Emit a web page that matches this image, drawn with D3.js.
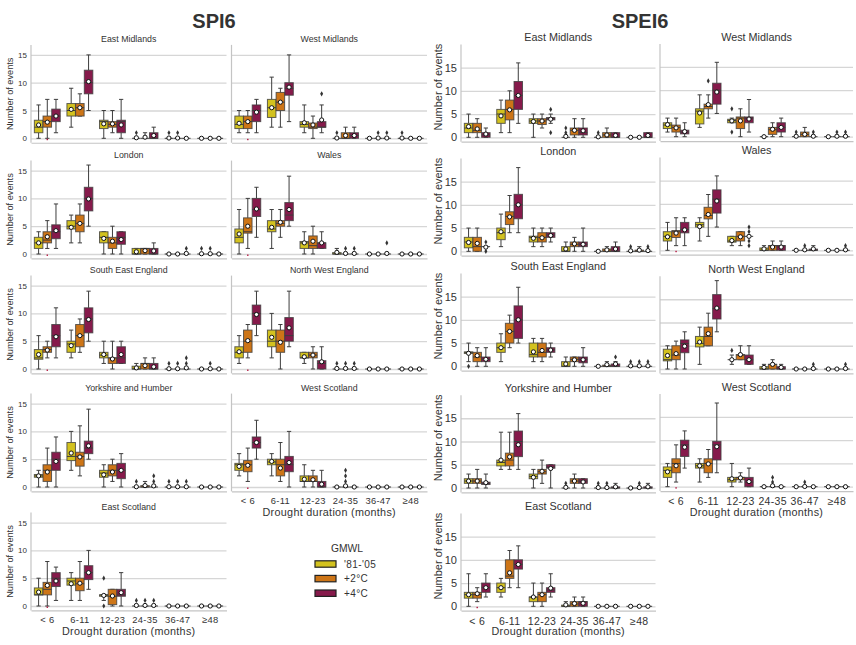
<!DOCTYPE html>
<html>
<head>
<meta charset="utf-8">
<title>SPI6 / SPEI6 drought events</title>
<style>
  body { margin: 0; background: #fff; }
  text { font-family: "Liberation Sans", Arial, sans-serif; fill: #333; }
</style>
</head>
<body>
<script src="https://d3js.org/d3.v7.min.js"></script>
<script>
// ---- categories ----
var durations = ["< 6", "6-11", "12-23", "24-35", "36-47", "\u226548"];
var scenarios = ["'81-'05", "+2\u00b0C", "+4\u00b0C"];
var colours   = ["#d3c21f", "#cd7517", "#861a4b"];
var yTicks    = [0, 5, 10, 15];

// each box: [whisker low, q1, median, q3, whisker high, mean, (outliers)]
var z = [[0,0,0,0,0,0],[0,0,0,0,0,0],[0,0,0,0,0,0]];

// ---- SPI6 ----
var spiEastMidlands = [
  [[0,1,2,3.25,6,2.4],[0,2,3,4,7,2.9],[1,3,4,5.25,7,4]],
  [[2,4,5,6.25,9,5.2],[4,4,5.5,6.25,8,5.5],[5,8,10,12.25,15,10.2]],
  [[0,1.75,3,3.25,5,2.6],[1,2,2.5,3,5,2.6],[0,1,3,3.25,7,2.4]],
  [[0,0,0,0,0,0.1,[1]],[0,0,0,0,1,0.2],[0,0,0,1,2,0.5]],
  [[0,0,0,0,0,0.05,[1]],[0,0,0,0,0,0.05,[1]],[0,0,0,0,0,0]],
  z
];
var spiWestMidlands = [
  [[1,1.75,2.5,4,5,2.7],[1,1.75,3,4,5,3],[1,3,5,6,7,4.7]],
  [[2,3.75,5.5,7,11,5.5],[2,5,6.5,8.25,9,6.5],[3,7.75,9,10,15,9.2]],
  [[1,2,2.5,3,6,2.8],[0,1.75,2,2.75,4,2.4],[1,2,2,3,6,3.3,[8]]],
  [[0,0,0,0,0,0.05,[1]],[0,0,0,1,2,0.5],[0,0,0.5,1,2,0.5]],
  [[0,0,0,0,0,0],[0,0,0,0,0,0.05,[1]],[0,0,0,0,0,0.05,[1]]],
  [[0,0,0,0,0,0.05,[1]],[0,0,0,0,0,0],[0,0,0,0,0,0]]
];
var spiLondon = [
  [[0,1,2,3,4,2],[1,2,2.5,4,6,3.1],[1,2.75,4,5.25,9,4.2]],
  [[2,4.5,5,6,7,4.8],[2,4,5.5,7,9,5.5],[5,7.75,10,12,16,9.9]],
  [[0,2,3,4,4,2.8],[0,1,2,3,5,2.3],[0,1.75,3,4,4,2.6]],
  [[0,0,0,1,1,0.4],[0,0,1,1,1,0.6],[0,0,0,1,2,0.55]],
  [[0,0,0,0,0,0],[0,0,0,0,0,0],[0,0,0,0,0,0.1,[1]]],
  [[0,0,0,0,0,0.05,[1]],[0,0,0,0,0,0.05,[1]],[0,0,0,0,0,0]]
];
var spiWales = [
  [[0,2,3,4.5,8,3.6],[1,3.75,4,6.5,10,5],[3,6.75,8,10,12,8.1]],
  [[1,4,4.5,6,8,4.8],[3,5,5.5,6,8,5.7],[5,6,7,9.25,14,8]],
  [[0,1,2,2.25,4,2],[0,1,1.5,3.25,5,2.3],[1,1,2,2,4,2]],
  [[0,0,0,0.25,1,0.3],[0,0,0,0,0,0.1,[1]],[0,0,0,0,0,0.1,[1]]],
  [[0,0,0,0,0,0],[0,0,0,0,0,0],[0,0,0,0,0,0.1,[2]]],
  z
];
var spiSouthEast = [
  [[0,1.75,2,3.5,6,2.6],[2,3,3.5,4,5,3.4],[2,4,6,8,11,5.8]],
  [[2,3,4.5,5,7,4.2],[3,4,6,8,9,6],[5,6.5,9,11,14,8.9]],
  [[1,2,2.5,3,5,2.6],[0,1,2,2,5,1.8],[1,1,2,4,5,2.6]],
  [[0,0,0,0.5,1,0.2],[0,0,1,1,2,0.6],[0,0,0,1,2,0.4]],
  [[0,0,0,0,0,0.05,[1]],[0,0,0,0,0,0.05,[1]],[0,0,0,0,0,0.2,[1,2]]],
  [[0,0,0,0,0,0],[0,0,0,0,0,0.05,[1]],[0,0,0,0,0,0]]
];
var spiNorthWest = [
  [[1,2,3,4,6,3.1],[2,3,5,7,8,5.1],[6,8,10,11.5,14,9.8]],
  [[2,4,5,7,10,5.7],[0,3,5,7,8,4.8],[4,5,6,9.25,14,7.4]],
  [[1,2,2,3,3,2.2],[0,2,2.5,3,4,2.5],[0,0,1,1.5,4,1.3]],
  [[0,0,0,0,0,0.1,[1]],[0,0,0,0,0,0.1,[1]],[0,0,0,0,0,0.1,[1]]],
  z, z
];
var spiYorkshire = [
  [[0,1.75,2,2.25,3,2],[0,1,3,4,7,2.7],[0,3,5,6.25,9,4.6]],
  [[3,4.75,5.5,8,10,6.1],[2,3.75,5.5,6.25,11,5.4],[5,6,7,8.25,14,7.4]],
  [[0,1.75,2.5,3,4,2.2],[1,2,3,4,5,2.7],[0,1.5,3,4.25,6,3]],
  [[0,0,0,0,0,0.05,[1]],[0,0,0,0.25,1,0.25],[0,0,0,0,0,0.2,[1,2]]],
  [[0,0,0,0,0,0.05,[1]],[0,0,0,0,0,0.05,[1]],[0,0,0,0,0,0.05,[1]]],
  z
];
var spiWestScotland = [
  [[2,3,4,4.25,6,3.7],[1,2.75,4,4.75,7,3.9],[5,7,8,9,12,8]],
  [[2,4,4.5,5,6,4.6],[1,2,4,5,8,3.4],[0,2.75,4,5.5,10,4.4]],
  [[0,1,1,2,4,1.4],[0,1,1,2,3,1.3],[0,0,0,1,3,0.5]],
  [[0,0,0,0,0,0],[0,0,0,0,0,0.2,[1,2,3]],[0,0,0,0,0,0]],
  z, z
];
var spiEastScotland = [
  [[0,2,2,3.25,5,2.5],[0,2,3,4.25,8,3.7],[1,3.5,5,6,7,4.5]],
  [[1,3.75,4.5,5,6,4],[1,2.75,4,5,8,4.1],[3,4.75,6,7.25,10,6]],
  [[1,1.75,2,2,2,1.9,[5,0]],[0,0.25,1.75,3,3,1.8],[0,1.75,2,3,6,2.4]],
  [[0,0,0,0,0,0.1,[1]],[0,0,0,0,0,0.1,[1]],[0,0,0,0,0,0.1,[1]]],
  z, z
];

// ---- SPEI6 ----
var speiEastMidlands = [
  [[0,1,2,3,5,2.3],[0,1,1.5,3,4,1.8],[0,0,0.5,1,2,0.7]],
  [[1,3,5,6,8,4.6],[1,3.75,6,8,10,5.9],[3,6,9,12,16,9]],
  [[0,3,3.5,4,5,3.4],[2,2.75,3.5,4,5,3.5],[3,3.75,4,4.25,5,3.9,[6,1]]],
  [[0,0,0,0,0,0.2,[1,2]],[0,0.5,1.5,2,4,1.5],[0,0.5,1,2,4,1.4]],
  [[0,0,0,0,0,0.1,[1]],[0,0,0.5,1,2,0.5],[0,0,0,1,1,0.4]],
  [[0,0,0,0,0,0],[0,0,0,0,0,0],[0,0,0,1,1,0.4]]
];
var speiWestMidlands = [
  [[1,1.75,2.5,3,4,2.6],[0,1,2,2.5,4,1.9],[0,0.6,1,1.4,3,1.1]],
  [[2,2.75,5.5,6,9,5.1],[4,6,6.5,7,9,6.9,[12]],[5,7,10,11.5,16,9.6]],
  [[3,3,3.5,3.75,4,3.4,[6,1]],[0,1.75,4,4.25,6,3.4],[1,3,4,4.25,8,3.8]],
  [[0,0,0,0,0,0],[0,0.5,1.5,2,3,1.6],[0,1,2,3,4,2]],
  [[0,0,0,0,0,0.1,[1]],[0,0,0.5,1,2,0.5],[0,0,0,0,0,0.1,[1]]],
  [[0,0,0,0,0,0],[0,0,0,0,0,0.1,[1]],[0,0,0,0,0,0.1,[1]]]
];
var speiLondon = [
  [[0,0.75,2,3,5,1.9],[0,0,1,3,5,1.7],[1,1,1,1,1,0.9,[2,0]]],
  [[1,2.5,4,5,8,4.2],[4,5.75,7.5,8.5,12,7.4],[4,7,10,12.25,18,10]],
  [[1,2,3,3.25,5,2.8],[1,2,3,4,5,2.9],[2,3,3.5,4,5,3.4]],
  [[0,0,0,1,2,0.5],[0,1,1.5,2,3,1.6],[0,1,1.5,2,5,1.5]],
  [[0,0,0,0,0,0],[0,0,0,0.5,1,0.3],[0,0,0,1,2,0.5]],
  [[0,0,0,0,0,0.1,[1]],[0,0,0,0.25,1,0.25],[0,0,0,0,0,0.15,[1]]]
];
var speiWales = [
  [[0,2,3,4,6,2.9],[1,2.75,4,4.25,7,3.7],[1,3.75,4.5,6,7,4.4]],
  [[2,5,5.5,6,7,5.1],[3,6.75,7.5,9.25,12,7.7],[5,8,11,13,16,10.6]],
  [[1,1.75,2,3,3,2.1],[1,2,3,4,4,2.9],[3,3,3,3,3,3,[5,4,2,1]]],
  [[0,0,0,0.5,1,0.3],[0,0,1,1,2,0.7],[0,0,1,1,2,0.7]],
  [[0,0,0,0,0,0],[0,0,0,0,0,0.1,[1]],[0,0,0,0.25,1,0.3]],
  [[0,0,0,0,0,0],[0,0,0,0,0,0],[0,0,0,0,0,0.1,[1]]]
];
var speiSouthEast = [
  [[1,2.75,3,3.1,5,2.8,[0]],[0,1,2,3,4,2.3],[0,1,1.5,2,4,1.5]],
  [[1,3,4,5,7,4],[4,5,7.5,9.25,11,7.5],[5,6,10,13,17,10]],
  [[1,2,2.5,5,6,3.1],[1,2,3,5,6,3.4],[2,3,3.5,4,5,3.5]],
  [[0,0,0,1,2,0.5],[0,1,1.5,2,2,1.4],[0,0.75,1.5,2,4,1.4]],
  [[0,0,0,0,0,0],[0,0,0,0.25,1,0.35],[0,0,0,0.5,1,0.5,[2]]],
  [[0,0,0,0,0,0.1,[1]],[0,0,0,0,0,0.1,[1]],[0,0,0,0,0,0.1,[1]]]
];
var speiNorthWest = [
  [[0,1.75,2,4.25,5,2.9],[0,2,3,5,6,3.3],[0,3.5,5.5,6.25,8,4.9]],
  [[1,4.75,5.5,7,9,5.8],[5,5,7,9,12,7.6],[8,10.75,13,16,19,13.1]],
  [[1,2,2,2,3,2,[4]],[2,2,3,3.1,5,3.1],[1,1,2,3,5,2]],
  [[0,0,0,0.5,1,0.35],[0,0,1,1,2,1],[0,0,0,0.5,1,0.35]],
  [[0,0,0,0,0,0],[0,0,0,0,0,0],[0,0,0,0,0,0.1,[1]]],
  [[0,0,0,0,0,0],[0,0,0,0,0,0],[0,0,0,0,0,0.1,[1]]]
];
var speiYorkshire = [
  [[0,1,1.5,2,3,1.5],[0,1,1.5,2,4,1.5],[0,0.75,1,1.25,3,1.15]],
  [[4,4.75,5.5,6,12,6],[4,4.75,6,7.5,12,6.7],[4,6.75,10,12.25,16,9.3]],
  [[0,2,2.5,3,4,2.3],[1,3,3.5,4,6,3.6],[0,4.25,4.5,5,5,4.2]],
  [[0,0,0,0,0,0.15,[1]],[0,1,1.5,2,3,1.5],[0,1,1.5,2,2,1.3]],
  [[0,0,0,0,0,0.1,[1]],[0,0,0,0,0,0.1,[1]],[0,0,0,0.25,1,0.25]],
  [[0,0,0,0,0,0],[0,0,0,0,0,0.1,[1]],[0,0,0,0.25,1,0.25]]
];
var speiWestScotland = [
  [[0,2,3.5,4.25,5,3.2],[1,3,5,6,9,4.5],[4,6.5,9,10,12,8.5]],
  [[1,4,4.5,5,6,4.5],[2,3,5,6,8,4.9],[3,5.75,9,9.75,18,8.6]],
  [[0,1,1.5,2,5,1.7],[1,1.5,2,2,3,1.9],[0,0,1,2,4,1.1]],
  [[0,0,0,0,0,0],[0,0,0,0,0,0.2,[1,2]],[0,0,0,0,0,0]],
  [[0,0,0,0,0,0],[0,0,0,0,0,0.05,[1]],[0,0,0,0,0,0]],
  z
];
var speiEastScotland = [
  [[0,1.75,2.5,3,7,2.5],[1,1.75,2.5,3,4,2.7],[2,3,4,5,7,4]],
  [[2,3,4,5,6,4],[4,6,6.5,10,12,7.2],[4,8,9,10,13,9]],
  [[0,1,2,2,5,2],[0,1,2.5,3,5,2.5],[2,3,3.5,4,7,3.9]],
  [[0,0,0,0.25,1,0.3],[0,0,0.5,1,2,0.6],[0,0,1,1,2,0.65]],
  z, z
];

// ---- layout ----
var W = 856, H = 645;
var svg = d3.select("body").append("svg").attr("width", W).attr("height", H);

// per index: unit px, y domain, font sizes, column x ranges
var spiCfg  = {u: 5.56, dom: [-0.8, 16.8],  cols: [[31, 226.5], [231.5, 427]],
               title: 8.8, tick: 8, ylab: 9.2, xtick: 9.4, ylabOff: 18};
var speiCfg = {u: 4.65, dom: [-0.95, 19.95], cols: [[461, 655.5], [660, 853]],
               title: 10.8, tick: 11, ylab: 11, xtick: 10.5, ylabOff: 19};

var panels = [
  {cfg: spiCfg, name: "East Midlands",       data: spiEastMidlands,  col: 0, zero: 138.3, dot: true},
  {cfg: spiCfg, name: "West Midlands",       data: spiWestMidlands,  col: 1, zero: 138.3, dot: true},
  {cfg: spiCfg, name: "London",              data: spiLondon,        col: 0, zero: 254,   dot: true},
  {cfg: spiCfg, name: "Wales",               data: spiWales,         col: 1, zero: 254,   dot: true},
  {cfg: spiCfg, name: "South East England",  data: spiSouthEast,     col: 0, zero: 369,   dot: true},
  {cfg: spiCfg, name: "North West England",  data: spiNorthWest,     col: 1, zero: 369,   dot: true},
  {cfg: spiCfg, name: "Yorkshire and Humber",data: spiYorkshire,     col: 0, zero: 487},
  {cfg: spiCfg, name: "West Scotland",       data: spiWestScotland,  col: 1, zero: 487,   dot: true, xaxis: true},
  {cfg: spiCfg, name: "East Scotland",       data: spiEastScotland,  col: 0, zero: 606,   dot: true, xaxis: true},

  {cfg: speiCfg, name: "East Midlands",       data: speiEastMidlands, col: 0, zero: 137.3},
  {cfg: speiCfg, name: "West Midlands",       data: speiWestMidlands, col: 1, zero: 136.7},
  {cfg: speiCfg, name: "London",              data: speiLondon,       col: 0, zero: 251.3},
  {cfg: speiCfg, name: "Wales",               data: speiWales,        col: 1, zero: 250.3, dot: true},
  {cfg: speiCfg, name: "South East England",  data: speiSouthEast,    col: 0, zero: 366.3},
  {cfg: speiCfg, name: "North West England",  data: speiNorthWest,    col: 1, zero: 369},
  {cfg: speiCfg, name: "Yorkshire and Humber",data: speiYorkshire,    col: 0, zero: 488},
  {cfg: speiCfg, name: "West Scotland",       data: speiWestScotland, col: 1, zero: 486.7, dot: true, xaxis: true},
  {cfg: speiCfg, name: "East Scotland",       data: speiEastScotland, col: 0, zero: 606.3, dot: true, xaxis: true}
];

var lineCol = "#3d3d3d";

panels.forEach(function(p) {
  var c = p.cfg;
  var xr = c.cols[p.col];
  var x = d3.scaleBand().domain(durations).range(xr);
  var hue = d3.scaleBand().domain(scenarios).range([0.1 * x.bandwidth(), 0.9 * x.bandwidth()]);
  var bw = hue.bandwidth() * 0.98;
  var y = d3.scaleLinear().domain(c.dom)
      .range([p.zero - c.dom[0] * c.u, p.zero - c.dom[1] * c.u]);

  var g = svg.append("g");

  // grid + y tick labels
  var ya = g.append("g")
      .attr("transform", "translate(" + xr[0] + ",0)")
      .call(d3.axisLeft(y).tickValues(yTicks).tickSize(-(xr[1] - xr[0])).tickPadding(4));
  ya.select(".domain").remove();
  ya.selectAll("line").attr("stroke", "#d6d6d6").attr("stroke-width", 1.3);
  ya.selectAll("text").style("font-size", c.tick + "px").attr("fill", "#444")
      .attr("x", -4);
  if (p.col === 1) ya.selectAll("text").remove();

  // spines
  g.append("line").attr("x1", xr[0]).attr("x2", xr[0])
      .attr("y1", y(c.dom[0])).attr("y2", y(c.dom[1]))
      .attr("stroke", "#c4c4c4").attr("stroke-width", 1.2);
  var xa = g.append("g")
      .attr("transform", "translate(0," + y(c.dom[0]) + ")")
      .call(d3.axisBottom(x).tickSize(0).tickPadding(6));
  xa.select(".domain").attr("stroke", "#c4c4c4").attr("stroke-width", 1.2);
  if (p.xaxis) {
    xa.selectAll("text").style("font-size", c.xtick + "px").attr("fill", "#333")
        .style("letter-spacing", "0.3px").attr("dy", "0.75em");
    g.append("text")
        .attr("x", (xr[0] + xr[1]) / 2)
        .attr("y", p.zero + 29)
        .attr("text-anchor", "middle")
        .style("font-size", "10.8px")
        .style("letter-spacing", "0.3px")
        .text("Drought duration (months)");
  } else {
    xa.selectAll("text").remove();
  }

  // title
  g.append("text")
      .attr("x", (xr[0] + xr[1]) / 2)
      .attr("y", p.zero - 96)
      .attr("text-anchor", "middle")
      .style("font-size", c.title + "px")
      .text(p.name);

  // y label
  if (p.col === 0) {
    var yc = (y(c.dom[0]) + y(c.dom[1])) / 2 - (c === speiCfg ? 6 : 0);
    g.append("text")
        .attr("transform", "translate(" + (xr[0] - c.ylabOff) + "," + yc + ") rotate(-90)")
        .attr("text-anchor", "middle")
        .style("font-size", c.ylab + "px")
        .attr("fill", "#444")
        .text("Number of events");
  }

  // boxes
  p.data.forEach(function(group, gi) {
    group.forEach(function(b, hi) {
      var cx = x(durations[gi]) + hue(scenarios[hi]) + hue.bandwidth() / 2;
      var bx = g.append("g");
      var cap = bw / 2;
      // whiskers
      bx.append("line").attr("x1", cx).attr("x2", cx).attr("y1", y(b[3])).attr("y2", y(b[4]))
          .attr("stroke", lineCol).attr("stroke-width", 1);
      bx.append("line").attr("x1", cx).attr("x2", cx).attr("y1", y(b[1])).attr("y2", y(b[0]))
          .attr("stroke", lineCol).attr("stroke-width", 1);
      [b[0], b[4]].forEach(function(v) {
        bx.append("line").attr("x1", cx - cap / 2).attr("x2", cx + cap / 2)
            .attr("y1", y(v)).attr("y2", y(v))
            .attr("stroke", lineCol).attr("stroke-width", 1);
      });
      // box
      bx.append("rect")
          .attr("x", cx - bw / 2).attr("width", bw)
          .attr("y", y(b[3])).attr("height", Math.max(0, y(b[1]) - y(b[3])))
          .attr("fill", colours[hi])
          .attr("stroke", lineCol).attr("stroke-opacity", 0.8).attr("stroke-width", 1);
      // median
      bx.append("line").attr("x1", cx - bw / 2).attr("x2", cx + bw / 2)
          .attr("y1", y(b[2])).attr("y2", y(b[2]))
          .attr("stroke", lineCol).attr("stroke-width", 1);
      // outliers
      (b[6] || []).forEach(function(o) {
        var oy = y(o);
        bx.append("path")
            .attr("d", "M" + cx + "," + (oy - 2.6) + "L" + (cx + 1.5) + "," + oy +
                       "L" + cx + "," + (oy + 2.6) + "L" + (cx - 1.5) + "," + oy + "Z")
            .attr("fill", "#333");
      });
      // mean
      bx.append("circle").attr("cx", cx).attr("cy", y(b[5])).attr("r", 2.1)
          .attr("fill", "#fff").attr("stroke", "#111").attr("stroke-width", 1);
    });
  });

  // stray marker seen under the first +2°C box
  if (p.dot) {
    var dx = x(durations[0]) + hue(scenarios[1]) + hue.bandwidth() / 2;
    g.append("rect").attr("x", dx - 0.7).attr("y", y(0) + 0.5).attr("width", 1.4).attr("height", 1.4)
        .attr("fill", "#b3123c");
  }
});

// index titles
svg.append("text").attr("x", 214).attr("y", 28).attr("text-anchor", "middle")
    .style("font-size", "20px").style("font-weight", "bold").attr("fill", "#222").text("SPI6");
svg.append("text").attr("x", 640).attr("y", 28).attr("text-anchor", "middle")
    .style("font-size", "20px").style("font-weight", "bold").attr("fill", "#222").text("SPEI6");

// legend
var leg = svg.append("g");
leg.append("text").attr("x", 347).attr("y", 552).attr("text-anchor", "middle")
    .style("font-size", "10.3px").text("GMWL");
scenarios.forEach(function(s, i) {
  var ly = 564 + i * 14.6;
  leg.append("rect").attr("x", 315).attr("y", ly - 3.2).attr("width", 21).attr("height", 6.4)
      .attr("fill", colours[i]).attr("stroke", "#222").attr("stroke-width", 1.2);
  leg.append("text").attr("x", 344).attr("y", ly).attr("dy", "0.35em")
      .style("font-size", "10px").style("letter-spacing", "0.4px").text(s);
});
</script>
</body>
</html>
